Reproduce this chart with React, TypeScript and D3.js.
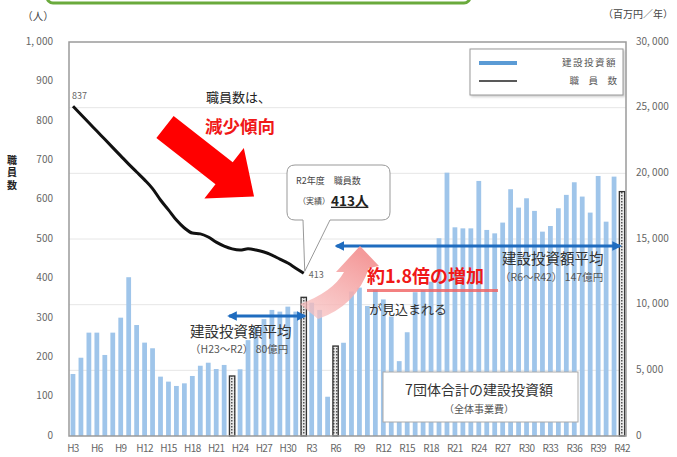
import React from "react";
import * as d3 from "d3";

const categories = [
  "H3","H4","H5","H6","H7","H8","H9","H10","H11","H12","H13","H14","H15","H16","H17","H18","H19","H20","H21","H22",
  "H23","H24","H25","H26","H27","H28","H29","H30","R1","R2","R3","R4","R5","R6","R7","R8","R9","R10","R11","R12",
  "R13","R14","R15","R16","R17","R18","R19","R20","R21","R22","R23","R24","R25","R26","R27","R28","R29","R30","R31","R32",
  "R33","R34","R35","R36","R37","R38","R39","R40","R41","R42"
];

// 建設投資額 (百万円/年)
const investment = [
  4720,5960,7870,7870,6170,7870,9010,12090,8450,7110,6680,4520,4140,3810,4010,4570,5350,5580,5100,5410,
  4570,5080,7300,8300,8900,9600,9470,9850,9470,10560,10150,9600,2990,6850,7100,11000,11300,9900,11100,10400,
  9100,5700,7900,10950,11100,11750,15060,20050,15890,15810,15810,19420,15690,15430,16250,18790,17390,18100,17140,15560,
  15990,17340,18360,19320,18230,17010,19800,16320,19750,18610
];

// 職員数 (人) H3〜R2
const staffCategories = categories.slice(0, 30);
const staff = [837,816,795,774,753,732,711,690,670,650,628,599,574,548,528,515,513,505,492,482,475,472,475,472,467,459,449,439,426,413];

const hatchedCategories = ["H23","R2","R6","R42"];

const xTickLabels = ["H3","H6","H9","H12","H15","H18","H21","H24","H27","H30","R3","R6","R9","R12","R15","R18","R21","R24","R27","R30","R33","R36","R39","R42"];
const leftTicks = [0,100,200,300,400,500,600,700,800,900,1000];
const leftTickLabels = ["0","100","200","300","400","500","600","700","800","900","1, 000"];
const rightTicks = [0,5000,10000,15000,20000,25000,30000];
const rightTickLabels = ["0","5, 000","10, 000","15, 000","20, 000","25, 000","30, 000"];

const JP = "'Noto Sans CJK JP', 'Noto Sans', sans-serif";

export default function App() {
  const left = 69, right = 626, top = 42, bottom = 436;
  const x = d3.scaleBand<string>().domain(categories).range([left, right]).paddingInner(0.4).paddingOuter(0.2);
  const yL = d3.scaleLinear().domain([0, 1000]).range([bottom, top]);
  const yR = d3.scaleLinear().domain([0, 30000]).range([bottom, top]);
  const cx = (c: string) => (x(c) as number) + x.bandwidth() / 2;

  const line = d3.line<number>()
    .x((_, i) => cx(staffCategories[i]))
    .y((d) => yL(d))
    .curve(d3.curveMonotoneX);

  const redArrow = (() => {
    const sw = 14, sl = 75, hw = 32, hl = 38;
    return `M0,${-sw} L${sl},${-sw} L${sl},${-hw} L${sl + hl},0 L${sl},${hw} L${sl},${sw} L0,${sw} Z`;
  })();

  const avg1Y = 316;
  const avg2Y = 246;
  const x0 = cx("R2");
  const y0 = yL(413);

  return (
    <svg width={677} height={457} style={{ position: "absolute", left: 0, top: 0, background: "#fff" }} fontFamily={JP}>
      <defs>
        <pattern id="hatch" width="3" height="3" patternUnits="userSpaceOnUse">
          <rect width="3" height="3" fill="#e8e8e8" />
          <rect width="1.5" height="1.5" fill="#555" />
        </pattern>
        <marker id="ah" viewBox="0 0 10 10" refX="8" refY="5" markerWidth="3.2" markerHeight="3.2" orient="auto-start-reverse">
          <path d="M0,0 L10,5 L0,10 Z" fill="#1f6cbf" />
        </marker>
        <linearGradient id="pinkg" x1="0" y1="1" x2="0.6" y2="0">
          <stop offset="0" stopColor="#f8c4c4" stopOpacity="0.7" />
          <stop offset="1" stopColor="#f49a9a" />
        </linearGradient>
        <filter id="sh" x="-5%" y="-5%" width="115%" height="125%">
          <feDropShadow dx="1.5" dy="1.5" stdDeviation="1" floodColor="#999" floodOpacity="0.5" />
        </filter>
      </defs>

      {/* green title box (cut off) */}
      <rect x={47} y={-20} width={423} height={23} rx={6} fill="#fff" stroke="#6aaa3c" strokeWidth={3} />

      {/* grid */}
      {rightTicks.slice(1, -1).map((t) => (
        <line key={t} x1={left} x2={right} y1={yR(t)} y2={yR(t)} stroke="#e6e6e6" strokeWidth={1} />
      ))}

      {/* bars */}
      {categories.map((c, i) => {
        const h = hatchedCategories.includes(c);
        const bx = x(c) as number;
        const y = yR(investment[i]);
        return h ? (
          <rect key={c} x={bx - 0.3} y={y} width={x.bandwidth() + 0.6} height={bottom - y}
            fill="url(#hatch)" stroke="#333" strokeWidth={1.3} />
        ) : (
          <rect key={c} x={bx} y={y} width={x.bandwidth()} height={bottom - y} fill="#9fc5ea" />
        );
      })}

      {/* staff line */}
      <path d={line(staff) || ""} fill="none" stroke="#111" strokeWidth={3} strokeLinejoin="round" />
      <text x={cx("H3") - 1} y={yL(837) - 7} fontSize={9} fill="#666">837</text>
      <text x={x0 + 5} y={y0 + 5} fontSize={9} fill="#666">413</text>

      {/* frame */}
      <rect x={left} y={top} width={right - left} height={bottom - top} fill="none" stroke="#9a9a9a" strokeWidth={1.5} />

      {/* left axis */}
      <text x={38} y={20} fontSize={10.5} fill="#444" textAnchor="middle">（人）</text>
      {leftTicks.map((t, i) => (
        <text key={t} x={53} y={yL(t)} fontSize={10} fill="#666" textAnchor="end" dominantBaseline="middle">{leftTickLabels[i]}</text>
      ))}
      <text x={12} y={155} fontSize={10} fontWeight="bold" fill="#222" letterSpacing={2.5}
        style={{ writingMode: "vertical-rl" as any }}>職員数</text>

      {/* right axis */}
      <text x={638} y={18} fontSize={10} fill="#444" textAnchor="middle">（百万円／年）</text>
      {rightTicks.map((t, i) => (
        <text key={t} x={636} y={yR(t)} fontSize={10} fill="#666" dominantBaseline="middle">{rightTickLabels[i]}</text>
      ))}

      {/* x labels */}
      {xTickLabels.map((l) => (
        <text key={l} x={cx(l)} y={452} fontSize={10} fill="#666" textAnchor="middle" letterSpacing={-0.6}>{l}</text>
      ))}

      {/* legend */}
      <rect x={470} y={49} width={153} height={46} fill="#fff" stroke="#999" strokeWidth={1} filter="url(#sh)" />
      <line x1={479} x2={517} y1={63} y2={63} stroke="#5b9bd5" strokeWidth={4} />
      <line x1={479} x2={517} y1={81} y2={81} stroke="#222" strokeWidth={1.5} />
      <text x={617} y={63} fontSize={9.5} fill="#555" textAnchor="end" dominantBaseline="middle" letterSpacing={1.5}>建設投資額</text>
      <text x={617} y={81} fontSize={9.5} fill="#555" textAnchor="end" dominantBaseline="middle">職　員　数</text>

      {/* annotations: decreasing */}
      <text x={206} y={98} fontSize={13} fill="#222" dominantBaseline="middle">職員数は、</text>
      <text x={205} y={128} fontSize={17.5} fontWeight="bold" fill="#f01818" dominantBaseline="middle">減少傾向</text>
      <path d={redArrow} fill="#ff0000" transform="translate(165,127) rotate(38)" />

      {/* callout */}
      <path d={`M295,165 H382 Q390,165 390,173 V212 Q390,220 382,220 H330 L${x0 + 1},${y0 - 2} L303,220 H295 Q287,220 287,212 V173 Q287,165 295,165 Z`}
        fill="#fff" stroke="#999" strokeWidth={1} />
      <text x={296} y={182} fontSize={9} fill="#444" dominantBaseline="middle">R2年度　職員数</text>
      <text x={298} y={202} fontSize={8} fill="#444" dominantBaseline="middle">（実績）</text>
      <text x={331} y={202} fontSize={13.5} fontWeight="bold" fill="#222" dominantBaseline="middle" textDecoration="underline">413人</text>

      {/* average H23-R2 */}
      <line x1={cx("H23") - 3} x2={x0 + 1} y1={avg1Y} y2={avg1Y} stroke="#1f6cbf" strokeWidth={3} markerStart="url(#ah)" markerEnd="url(#ah)" />
      <text x={190} y={333} fontSize={14.5} fill="#333" dominantBaseline="middle">建設投資額平均</text>
      <text x={190} y={350} fontSize={10.5} fill="#555" dominantBaseline="middle">（H23～R2） 80億円</text>

      {/* average R6-R42 */}
      <line x1={cx("R6") + 1} x2={cx("R42") - 2} y1={avg2Y} y2={avg2Y} stroke="#1f6cbf" strokeWidth={3} markerStart="url(#ah)" markerEnd="url(#ah)" />
      <text x={502} y={260} fontSize={14.5} fill="#333" dominantBaseline="middle">建設投資額平均</text>
      <text x={500} y={278} fontSize={10.5} fill="#555" dominantBaseline="middle">（R6～R42） 147億円</text>

      {/* pink curved arrow */}
      <path d="M300,304 Q333,292 344,272 L336,272 L360,246 L379,266 L369,268 Q356,306 318,319 Z" fill="url(#pinkg)" />
      <rect x={367} y={289} width={131} height={3} fill="#f06060" opacity={0.8} />
      <text x={367} y={278} fontSize={18} fontWeight="bold" fill="#f01818" dominantBaseline="middle">約1.8倍の増加</text>
      <text x={369} y={310} fontSize={13} fill="#333" dominantBaseline="middle">が見込まれる</text>

      {/* total box */}
      <rect x={383} y={372} width={195} height={50} fill="#fff" stroke="#aaa" strokeWidth={1} />
      <text x={479} y={391} fontSize={14} fill="#333" textAnchor="middle" dominantBaseline="middle">7団体合計の建設投資額</text>
      <text x={479} y={410} fontSize={10} fill="#555" textAnchor="middle" dominantBaseline="middle">（全体事業費）</text>
    </svg>
  );
}
